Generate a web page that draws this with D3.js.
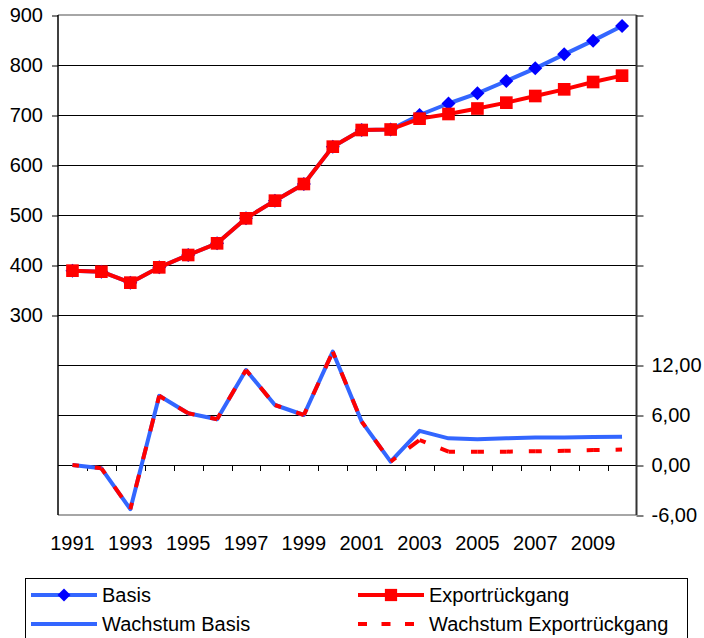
<!DOCTYPE html>
<html><head><meta charset="utf-8">
<script src="https://cdn.jsdelivr.net/npm/d3@7"></script>
<style>
html,body{margin:0;padding:0;background:#fff;}
svg{display:block;font-family:"Liberation Sans",Arial,sans-serif;}
</style></head>
<body>
<svg id="chart" width="704" height="638"></svg>
<script>
const years = [1991,1992,1993,1994,1995,1996,1997,1998,1999,2000,2001,2002,2003,2004,2005,2006,2007,2008,2009,2010];
const basis = [388.7,386.7,364.7,395.3,420,443.3,493.3,528.7,562,636.7,670,671,700,723,743.3,768,793.3,821.3,848.7,878];
const export_ = [388.7,386.7,364.7,395.3,420,443.3,493.3,528.7,562,636.7,670,671,692.7,702,713,724.7,738,751.3,766,778.7];
const growthBasis = [0,-0.4,-5.3,8.3,6.2,5.5,11.4,7.2,6.0,13.6,5.2,0.4,4.1,3.2,3.1,3.2,3.3,3.3,3.35,3.4];
const growthExport = [0,-0.4,-5.3,8.3,6.2,5.5,11.4,7.2,6.0,13.6,5.2,0.4,3.0,1.6,1.6,1.6,1.65,1.7,1.8,1.85];
const leftTicks = [300,400,500,600,700,800,900];
const gridValues = [-100,0,100,200,300,400,500,600,700,800,900];
const rightTicks = [-6,0,6,12,18,24,30,36,42,48,54];
const rightLabelTicks = [-6,0,6,12];
const xLabelYears = [1991,1993,1995,1997,1999,2001,2003,2005,2007,2009];
const legendItems = [
  {name:"Basis", kind:"diamond"},
  {name:"Exportrückgang", kind:"square"},
  {name:"Wachstum Basis", kind:"solid"},
  {name:"Wachstum Exportrückgang", kind:"dashed"}
];

const BLUE = "#3366ff", BLUE_MARK = "#0000ff", RED = "#ff0000";
const FS = 20;
const svg = d3.select("#chart");
const L = 58, R = 636.5, T = 15, B = 515;

const x = d3.scaleBand().domain(years).range([L, R]).padding(0);
const cx = d => x(d) + x.bandwidth()/2;
const yL = d3.scaleLinear().domain([-100, 900]).range([B, T]);
const yR = d3.scaleLinear().domain([-6, 54]).range([B, T]);

// gridlines
svg.append("g").selectAll("line").data(gridValues).join("line")
  .attr("x1", L).attr("x2", R)
  .attr("y1", d => (d===900||d===-100) ? yL(d) : yL(d)+0.5)
  .attr("y2", d => (d===900||d===-100) ? yL(d) : yL(d)+0.5)
  .attr("stroke", d => (d===900||d===-100) ? "#888" : "#000")
  .attr("stroke-width", d => (d===900||d===-100) ? 1.6 : 1);

// left axis
const gl = svg.append("g").attr("transform", `translate(${L},0)`)
  .call(d3.axisLeft(yL).tickValues(leftTicks).tickSize(6).tickPadding(9).tickFormat(d3.format("d")));
gl.select(".domain").remove();
gl.selectAll(".tick line").attr("stroke","#000").attr("transform","translate(0,0.5)");
gl.selectAll("text").attr("font-size", FS).attr("fill","#000").attr("font-family","Liberation Sans, Arial, sans-serif");
svg.append("line").attr("x1",L).attr("x2",L).attr("y1",T).attr("y2",B).attr("stroke","#000").attr("stroke-width",1.5);

// right axis
const fmtR = v => d3.format(".2f")(v).replace(".", ",").replace("\u2212", "-");
const gr = svg.append("g").attr("transform", `translate(${R},0)`)
  .call(d3.axisRight(yR).tickValues(rightTicks).tickSize(7).tickPadding(8)
    .tickFormat(v => rightLabelTicks.includes(v) ? fmtR(v) : ""));
gr.select(".domain").remove();
gr.selectAll(".tick line").attr("stroke","#000").attr("transform","translate(0,0.5)");
gr.selectAll("text").attr("font-size", FS).attr("fill","#000").attr("font-family","Liberation Sans, Arial, sans-serif");
svg.append("line").attr("x1",R).attr("x2",R).attr("y1",T).attr("y2",B).attr("stroke","#333").attr("stroke-width",2);

// x-axis ticks at category boundaries on the zero line
const y0 = yR(0);
svg.append("g").selectAll("line").data(years.slice(1)).join("line")
  .attr("x1", d => Math.round(x(d))+0.5).attr("x2", d => Math.round(x(d))+0.5)
  .attr("y1", y0).attr("y2", y0+6).attr("stroke","#000").attr("stroke-width",1);

// x labels
const gx = svg.append("g").attr("transform", `translate(0,${B})`)
  .call(d3.axisBottom(x).tickValues(xLabelYears).tickSize(0).tickPadding(21));
gx.select(".domain").remove();
gx.selectAll("text").attr("font-size", FS).attr("fill","#000").attr("font-family","Liberation Sans, Arial, sans-serif");

// top lines
const lineL = d3.line().x((d,i) => cx(years[i])).y(d => yL(d));
const lineR = d3.line().x((d,i) => cx(years[i])).y(d => yR(d));

svg.append("path").datum(basis).attr("d", lineL).attr("fill","none")
  .attr("stroke", BLUE).attr("stroke-width", 4).attr("stroke-linejoin","round");
const diamond = d3.symbol(d3.symbolSquare, 98);
svg.append("g").selectAll("path").data(basis).join("path")
  .attr("d", diamond)
  .attr("transform", (d,i) => `translate(${cx(years[i])},${yL(d)}) rotate(45)`)
  .attr("fill", BLUE_MARK);

svg.append("path").datum(export_).attr("d", lineL).attr("fill","none")
  .attr("stroke", RED).attr("stroke-width", 4).attr("stroke-linejoin","round");
const square = d3.symbol(d3.symbolSquare, 160);
svg.append("g").selectAll("path").data(export_).join("path")
  .attr("d", square)
  .attr("transform", (d,i) => `translate(${cx(years[i])},${yL(d)})`)
  .attr("fill", RED);

// bottom lines
svg.append("path").datum(growthBasis).attr("d", lineR).attr("fill","none")
  .attr("stroke", BLUE).attr("stroke-width", 4).attr("stroke-linejoin","round");

const segs = d3.pairs(growthExport.map((v,i) => [cx(years[i]), yR(v)]));
svg.append("g").selectAll("path").data(segs).join("path")
  .attr("d", s => d3.line()(s))
  .attr("fill","none").attr("stroke", RED).attr("stroke-width", 4)
  .attr("stroke-dasharray","13,16").attr("stroke-dashoffset", 6.5);

// legend
const lg = svg.append("g");
lg.append("rect").attr("x",25.5).attr("y",578.5).attr("width",662).attr("height",80)
  .attr("fill","#fff").attr("stroke","#000").attr("stroke-width",1);
const cols = [31, 358];
const rows = [595, 624];
legendItems.forEach((it, i) => {
  const lx = cols[i % 2], ly = rows[Math.floor(i / 2)];
  const g = lg.append("g");
  const color = (it.kind === "diamond" || it.kind === "solid") ? BLUE : RED;
  g.append("line").attr("x1", lx).attr("x2", lx+66).attr("y1", ly).attr("y2", ly)
    .attr("stroke", color).attr("stroke-width", 4)
    .attr("stroke-dasharray", it.kind === "dashed" ? "9,14.5" : null);
  if (it.kind === "diamond") {
    g.append("path").attr("d", d3.symbol(d3.symbolSquare, 84))
      .attr("transform", `translate(${lx+33},${ly}) rotate(45)`).attr("fill", BLUE_MARK);
  } else if (it.kind === "square") {
    g.append("path").attr("d", d3.symbol(d3.symbolSquare, 150))
      .attr("transform", `translate(${lx+33},${ly})`).attr("fill", RED);
  }
  g.append("text").attr("x", lx+71).attr("y", ly+7).attr("font-size", FS)
    .attr("fill","#000").text(it.name);
});
</script>
</body></html>
